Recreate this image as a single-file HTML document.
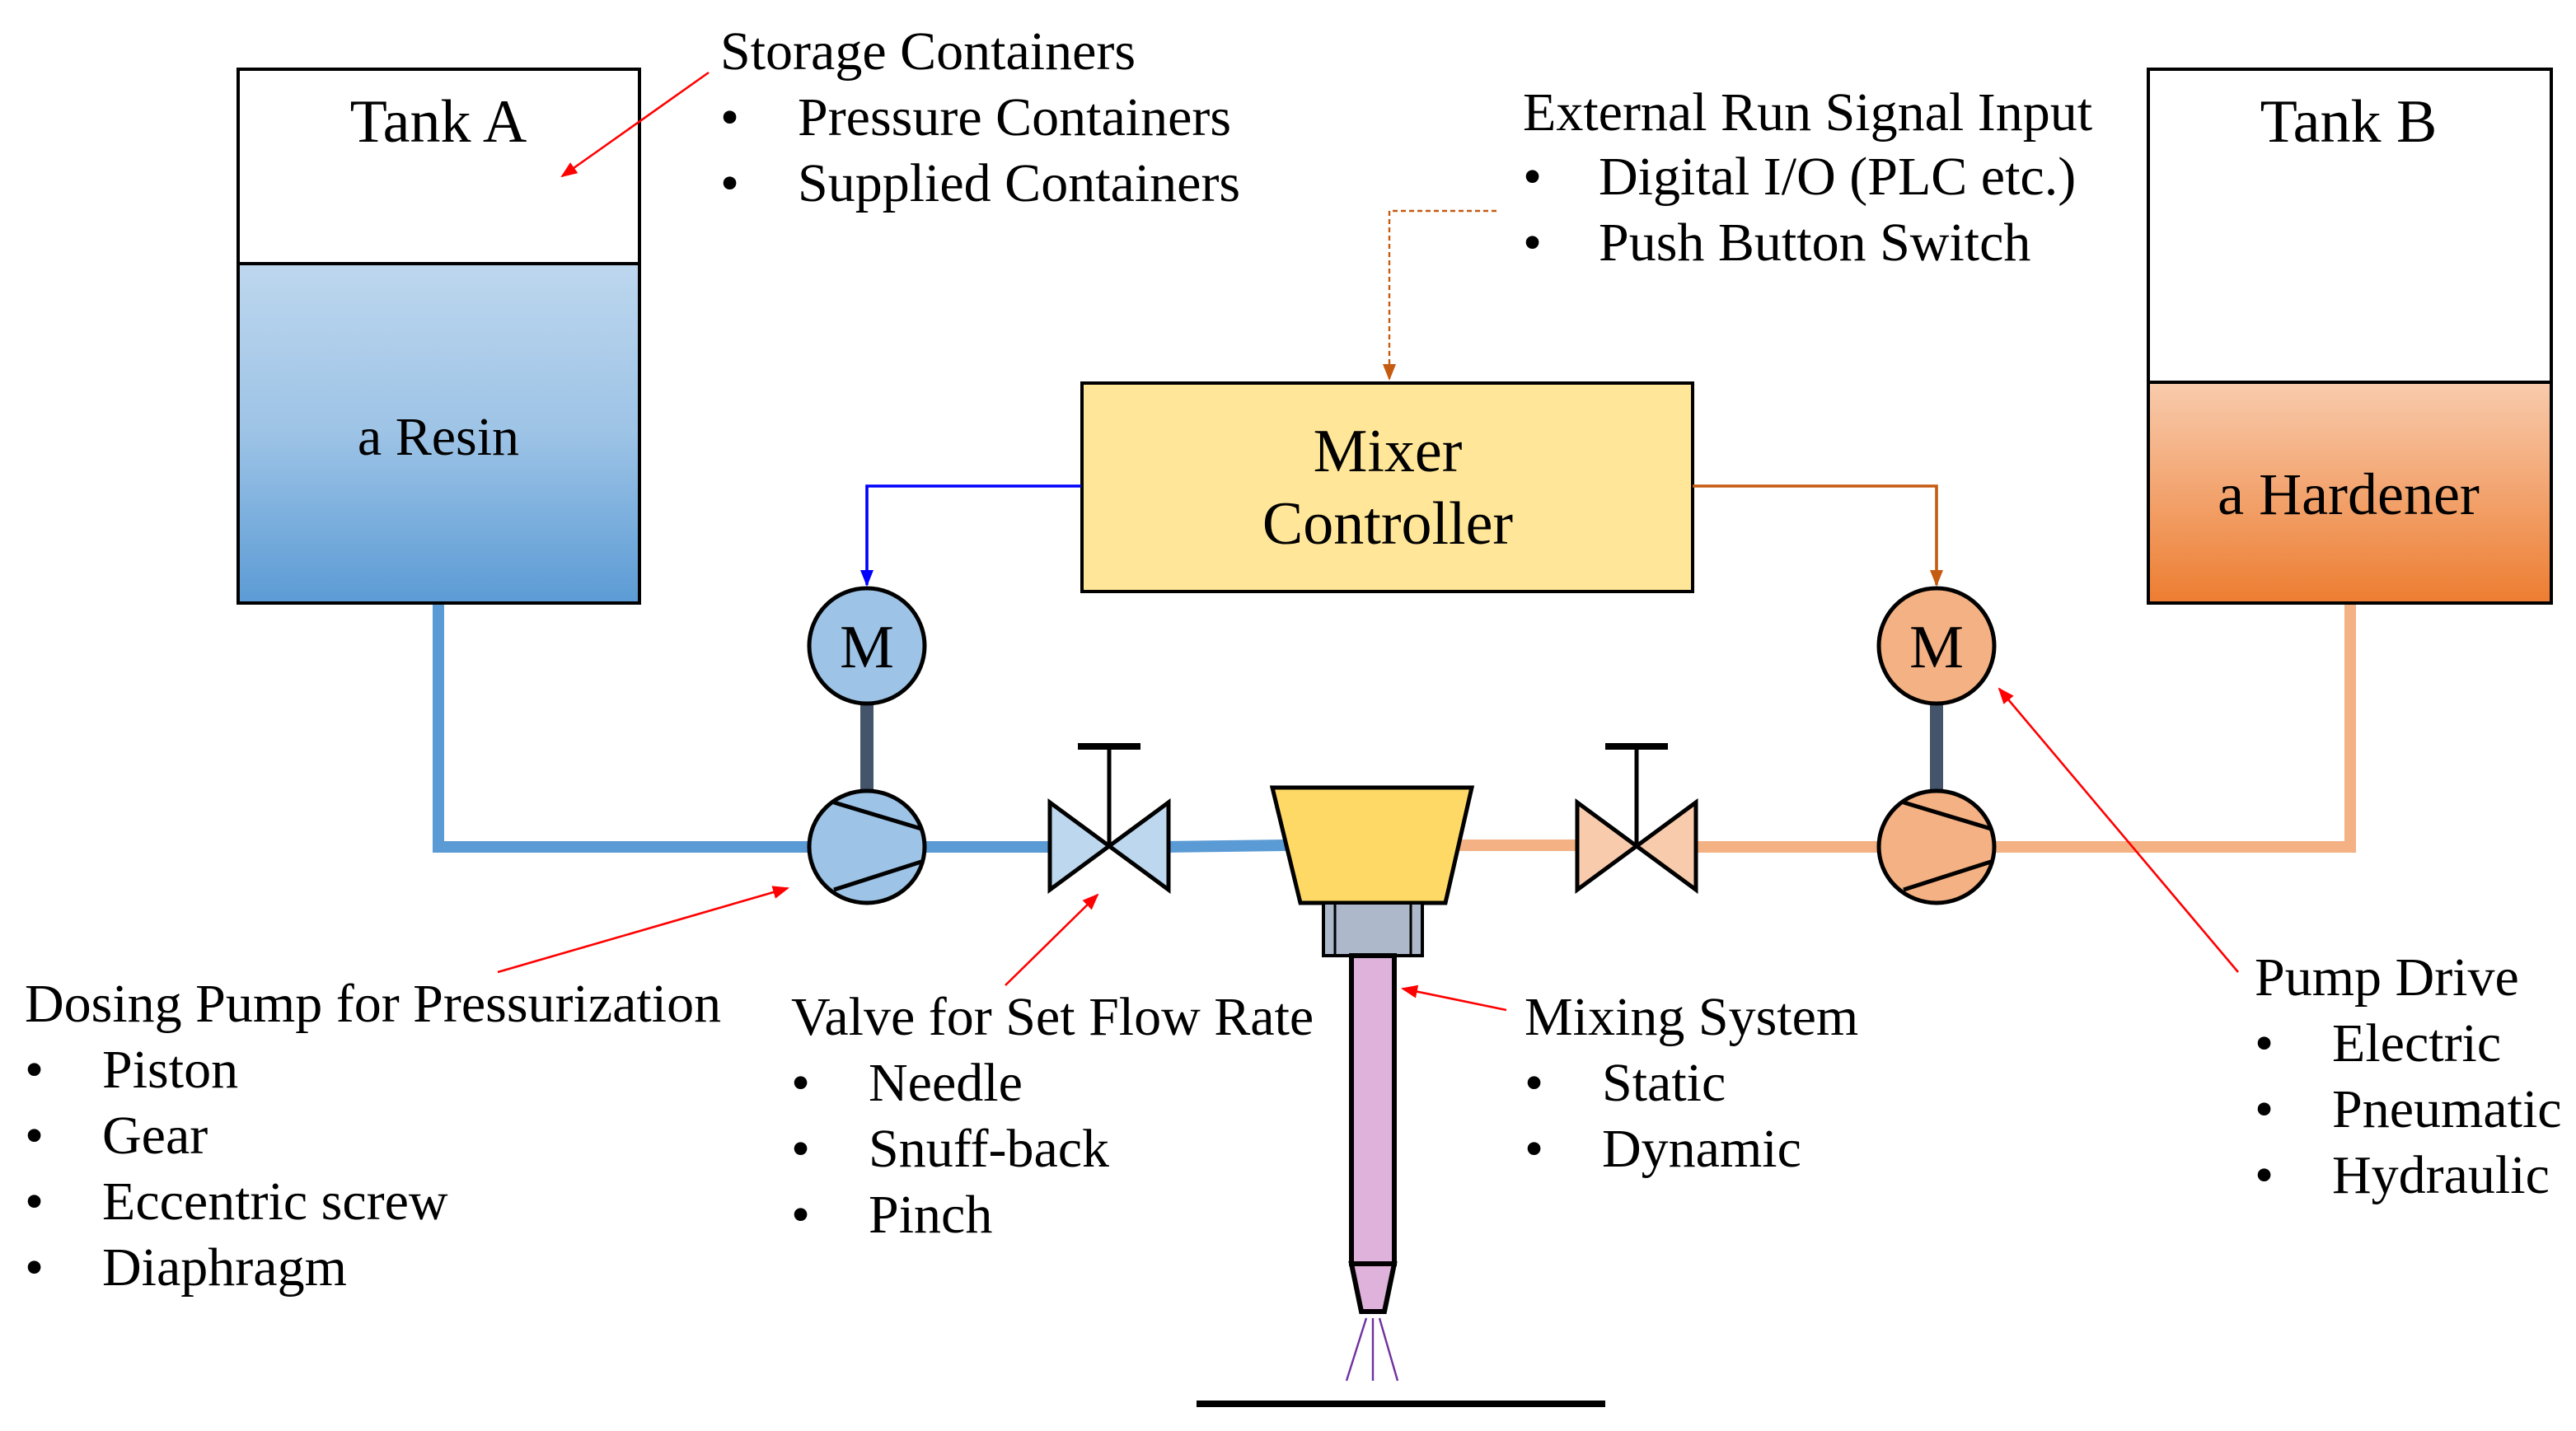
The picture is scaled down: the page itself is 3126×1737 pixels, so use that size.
<!DOCTYPE html>
<html><head><meta charset="utf-8"><style>html,body{margin:0;padding:0;background:#fff}svg{display:block}</style></head><body>
<svg width="3126" height="1737" viewBox="0 0 1563 868.5" xmlns="http://www.w3.org/2000/svg" font-family="'Liberation Serif', serif">
<defs>
<linearGradient id="gA" x1="0" y1="0" x2="0" y2="1"><stop offset="0" stop-color="#bdd7ee"/><stop offset="0.5" stop-color="#9dc3e6"/><stop offset="1" stop-color="#5b9bd5"/></linearGradient>
<linearGradient id="gB" x1="0" y1="0" x2="0" y2="1"><stop offset="0" stop-color="#f8cbad"/><stop offset="1" stop-color="#ed7d31"/></linearGradient>
<marker id="ar" markerWidth="10" markerHeight="10" refX="9" refY="5" orient="auto" markerUnits="userSpaceOnUse"><path d="M0,1 L10,5 L0,9z" fill="#ff0000"/></marker>
<marker id="ab" markerWidth="10" markerHeight="10" refX="9" refY="5" orient="auto" markerUnits="userSpaceOnUse"><path d="M0,1 L10,5 L0,9z" fill="#0000ff"/></marker>
<marker id="ao" markerWidth="10" markerHeight="10" refX="9" refY="5" orient="auto" markerUnits="userSpaceOnUse"><path d="M0,1 L10,5 L0,9z" fill="#c55a11"/></marker>
</defs>
<polyline points="266,366 266,514 492,514" fill="none" stroke="#5b9bd5" stroke-width="7"/>
<line x1="560" y1="514" x2="640" y2="514" stroke="#5b9bd5" stroke-width="7"/>
<line x1="706" y1="514" x2="780" y2="513" stroke="#5b9bd5" stroke-width="7"/>
<line x1="885" y1="513" x2="960" y2="513" stroke="#f4b183" stroke-width="7"/>
<polyline points="1026,514 1142,514" fill="none" stroke="#f4b183" stroke-width="7"/>
<polyline points="1208,514 1426,514 1426,366" fill="none" stroke="#f4b183" stroke-width="7"/>
<rect x="144.5" y="160" width="243.5" height="206" fill="url(#gA)"/>
<rect x="144.5" y="42" width="243.5" height="324" fill="none" stroke="#000" stroke-width="2"/>
<line x1="144.5" y1="160" x2="388" y2="160" stroke="#000" stroke-width="2"/>
<text x="266" y="86" font-size="37" text-anchor="middle">Tank A</text>
<text x="266" y="276" font-size="33" text-anchor="middle">a Resin</text>
<rect x="1303.5" y="232" width="244.5" height="134" fill="url(#gB)"/>
<rect x="1303.5" y="42" width="244.5" height="324" fill="none" stroke="#000" stroke-width="2"/>
<line x1="1303.5" y1="232" x2="1548" y2="232" stroke="#000" stroke-width="2"/>
<text x="1425" y="86" font-size="37" text-anchor="middle">Tank B</text>
<text x="1425" y="312" font-size="36" text-anchor="middle">a Hardener</text>
<rect x="656.5" y="232.5" width="370.5" height="126.5" fill="#ffe699" stroke="#000" stroke-width="2"/>
<text x="842" y="286" font-size="37" text-anchor="middle">Mixer</text>
<text x="842" y="330" font-size="37" text-anchor="middle">Controller</text>
<polyline points="656,295 526,295 526,355" fill="none" stroke="#0000ff" stroke-width="1.8" marker-end="url(#ab)"/>
<polyline points="1027,295 1175,295 1175,355" fill="none" stroke="#c55a11" stroke-width="1.8" marker-end="url(#ao)"/>
<polyline points="908,128 843,128 843,230" fill="none" stroke="#c55a11" stroke-width="1.2" stroke-dasharray="3,2" marker-end="url(#ao)"/>
<line x1="526" y1="426" x2="526" y2="481" stroke="#44546a" stroke-width="8"/>
<line x1="1175" y1="426" x2="1175" y2="481" stroke="#44546a" stroke-width="8"/>
<circle cx="526" cy="392" r="35" fill="#9dc3e6" stroke="#000" stroke-width="2.5"/>
<text x="526" y="405" font-size="37" text-anchor="middle">M</text>
<circle cx="1175" cy="392" r="35" fill="#f4b183" stroke="#000" stroke-width="2.5"/>
<text x="1175" y="405" font-size="37" text-anchor="middle">M</text>
<ellipse cx="526" cy="514" rx="35" ry="34" fill="#9dc3e6" stroke="#000" stroke-width="2.5"/>
<line x1="506" y1="487" x2="559" y2="503" stroke="#000" stroke-width="2.5"/>
<line x1="506" y1="540" x2="559" y2="523" stroke="#000" stroke-width="2.5"/>
<ellipse cx="1175" cy="514" rx="35" ry="34" fill="#f4b183" stroke="#000" stroke-width="2.5"/>
<line x1="1155" y1="487" x2="1208" y2="503" stroke="#000" stroke-width="2.5"/>
<line x1="1155" y1="540" x2="1208" y2="523" stroke="#000" stroke-width="2.5"/>
<path d="M637,487 L709,540 L709,487 L637,540 Z" fill="#bdd7ee" stroke="#000" stroke-width="2.5"/>
<line x1="673" y1="513" x2="673" y2="453" stroke="#000" stroke-width="2.5"/>
<line x1="654" y1="453" x2="692" y2="453" stroke="#000" stroke-width="4"/>
<path d="M957,487 L1029,540 L1029,487 L957,540 Z" fill="#f8cbad" stroke="#000" stroke-width="2.5"/>
<line x1="993" y1="513" x2="993" y2="453" stroke="#000" stroke-width="2.5"/>
<line x1="974" y1="453" x2="1012" y2="453" stroke="#000" stroke-width="4"/>
<path d="M772,478 L893,478 L877,548 L789,548 Z" fill="#ffd966" stroke="#000" stroke-width="2.5"/>
<rect x="803" y="548" width="60" height="32" fill="#adb9ca" stroke="#000" stroke-width="2"/>
<line x1="810" y1="548" x2="810" y2="580" stroke="#000" stroke-width="1.5"/>
<line x1="856" y1="548" x2="856" y2="580" stroke="#000" stroke-width="1.5"/>
<rect x="820" y="580" width="26" height="187" fill="#dfb2dc" stroke="#000" stroke-width="3"/>
<path d="M820,767 L846,767 L840,796 L826,796 Z" fill="#dfb2dc" stroke="#000" stroke-width="3"/>
<g stroke="#7030a0" stroke-width="1.2"><line x1="829" y1="800" x2="817" y2="838"/><line x1="833" y1="800" x2="833" y2="838"/><line x1="837" y1="800" x2="848" y2="838"/></g>
<line x1="726" y1="852" x2="974" y2="852" stroke="#000" stroke-width="4"/>
<g stroke="#ff0000" stroke-width="1.3" fill="none">
<line x1="430" y1="44" x2="341" y2="107" marker-end="url(#ar)"/>
<line x1="302" y1="590" x2="478" y2="539" marker-end="url(#ar)"/>
<line x1="610" y1="598" x2="666" y2="543" marker-end="url(#ar)"/>
<line x1="914" y1="613" x2="851" y2="600" marker-end="url(#ar)"/>
<line x1="1358" y1="590" x2="1213" y2="418" marker-end="url(#ar)"/>
</g>
<g font-size="33" fill="#000">
<text x="437" y="42">Storage Containers</text>
<text x="437" y="82">•</text><text x="484" y="82">Pressure Containers</text>
<text x="437" y="122">•</text><text x="484" y="122">Supplied Containers</text>
<text x="924" y="79">External Run Signal Input</text>
<text x="924" y="118">•</text><text x="970" y="118">Digital I/O (PLC etc.)</text>
<text x="924" y="158">•</text><text x="970" y="158">Push Button Switch</text>
<text x="15" y="620">Dosing Pump for Pressurization</text>
<text x="15" y="660">•</text><text x="62" y="660">Piston</text>
<text x="15" y="700">•</text><text x="62" y="700">Gear</text>
<text x="15" y="740">•</text><text x="62" y="740">Eccentric screw</text>
<text x="15" y="780">•</text><text x="62" y="780">Diaphragm</text>
<text x="480" y="628">Valve for Set Flow Rate</text>
<text x="480" y="668">•</text><text x="527" y="668">Needle</text>
<text x="480" y="708">•</text><text x="527" y="708">Snuff-back</text>
<text x="480" y="748">•</text><text x="527" y="748">Pinch</text>
<text x="925" y="628">Mixing System</text>
<text x="925" y="668">•</text><text x="972" y="668">Static</text>
<text x="925" y="708">•</text><text x="972" y="708">Dynamic</text>
<text x="1368" y="604">Pump Drive</text>
<text x="1368" y="644">•</text><text x="1415" y="644">Electric</text>
<text x="1368" y="684">•</text><text x="1415" y="684">Pneumatic</text>
<text x="1368" y="724">•</text><text x="1415" y="724">Hydraulic</text>
</g>
</svg>
</body></html>
